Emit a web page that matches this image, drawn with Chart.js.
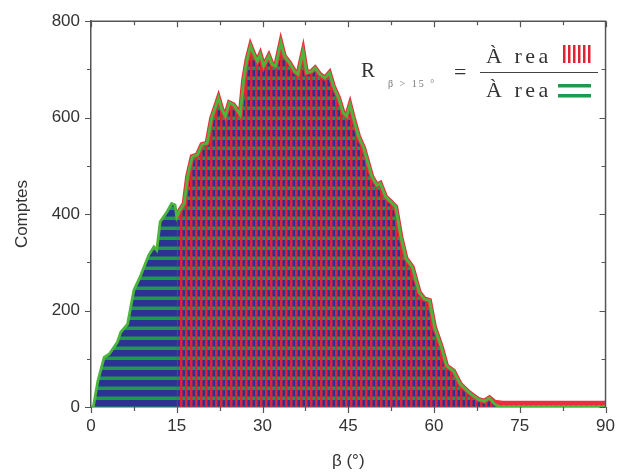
<!DOCTYPE html>
<html>
<head>
<meta charset="utf-8">
<script src="https://cdn.jsdelivr.net/npm/chart.js@4.4.0/dist/chart.umd.min.js"></script>
<style>
  html, body { margin: 0; padding: 0; background: #fff; }
  #wrap { width: 624px; height: 476px; }
</style>
</head>
<body>
<div id="wrap"><canvas id="graf" width="624" height="476"></canvas></div>
<script>
// ========== DADES ==========
// angle beta (graus) i comptes de l'histograma complet
const betaTotal = [0, 0.4, 1.2, 2.3, 3.2, 4.6, 5.2, 6.4, 7.5, 8.7, 10.1, 11.0, 11.5, 12.1, 13.3,
  14.1, 14.7, 15.0, 15.4, 16.3, 16.9, 17.7, 18.6, 19.4, 20.3, 21.1, 22.3, 22.9, 23.5, 24.2,
  24.9, 25.5, 26.1, 26.7, 27.3, 27.9, 28.5, 29.1, 29.6, 30.2, 31.1, 31.7, 32.3, 33.2, 33.8,
  34.7, 35.6, 36.2, 37.1, 37.7, 38.6, 39.2, 40.0, 40.9, 41.7, 42.4, 43.3, 44.1, 44.7, 45.3,
  45.9, 46.8, 47.7, 48.3, 49.1, 50.0, 50.6, 51.5, 52.4, 53.3, 54.2, 55.1, 56.2, 57.4, 58.3,
  59.2, 60.1, 61.3, 62.2, 63.4, 64.6, 66.1, 67.7, 68.8, 69.7, 70.6, 71.5, 80, 90];
const comptesTotal = [0, 0, 54, 103, 110, 134, 155, 172, 242, 273, 315, 332, 325, 384, 405,
  422, 419, 394, 405, 422, 478, 519, 523, 544, 547, 599, 641, 617, 603, 631,
  627, 617, 606, 679, 721, 749, 731, 717, 731, 707, 728, 710, 707, 756, 728,
  714, 696, 690, 738, 693, 696, 703, 690, 682, 693, 665, 641, 610, 603, 627,
  599, 561, 537, 512, 478, 460, 464, 436, 426, 415, 353, 308, 290, 238, 224,
  221, 165, 124, 85, 75, 47, 30, 16, 12, 19, 6, 0, 0, 0];

// cua de la corba beta > 15
const betaCua = [70.6, 72, 90];
const comptesCua = [10, 8, 8];

const ticksX = [0, 15, 30, 45, 60, 75, 90];
const ticksY = [0, 200, 400, 600, 800];

// part beta > 15 (a partir de l'index de 15 graus)
const i15 = betaTotal.indexOf(15.0);
const iFi = betaTotal.indexOf(69.7) + 1;
const betaSup15 = betaTotal.slice(i15, iFi).concat(betaCua);
const comptesSup15 = comptesTotal.slice(i15, iFi).concat(comptesCua);

const punts = (xs, ys) => xs.map((b, i) => ({ x: b, y: ys[i] }));

// ========== PATRONS ==========
const canvas = document.getElementById('graf');
const ctx = canvas.getContext('2d');

function patroHoritzontal() {
  const c = document.createElement('canvas');
  c.width = 4; c.height = 10;
  const g = c.getContext('2d');
  g.fillStyle = '#2b3392'; g.fillRect(0, 0, 4, 10);
  g.fillStyle = '#1f9a4c'; g.fillRect(0, 6.5, 4, 3.5);
  return ctx.createPattern(c, 'repeat');
}

function patroVertical() {
  const c = document.createElement('canvas');
  c.width = 5; c.height = 4;
  const g = c.getContext('2d');
  g.fillStyle = 'rgba(228,32,52,1)'; g.fillRect(0, 0, 2, 4);
  g.fillStyle = 'rgba(228,32,52,0.5)'; g.fillRect(2, 0, 1, 4);
  return ctx.createPattern(c, 'repeat');
}

const COLOR_EIX = '#555';
const COLOR_TEXT = '#333';

// ========== MARC I MARQUES ==========
const marquesEixos = {
  id: 'marquesEixos',
  afterDraw(chart) {
    const { ctx, chartArea: a, scales: { x, y } } = chart;
    ctx.save();
    ctx.strokeStyle = COLOR_EIX;
    ctx.lineWidth = 1.5;
    ctx.beginPath();
    ctx.moveTo(a.left, a.top); ctx.lineTo(a.right, a.top); ctx.lineTo(a.right, a.bottom);
    ctx.stroke();
    ctx.lineWidth = 1.2;
    ctx.beginPath();
    for (let v = 0; v <= 90; v += 7.5) {
      const px = Math.round(x.getPixelForValue(v)) + 0.5;
      const len = v % 15 === 0 ? 6 : 4;
      ctx.moveTo(px, a.bottom); ctx.lineTo(px, a.bottom + len);
      ctx.moveTo(px, a.top); ctx.lineTo(px, a.top + len);
    }
    for (let v = 0; v <= 800; v += 100) {
      const py = Math.round(y.getPixelForValue(v)) + 0.5;
      const len = v % 200 === 0 ? 6 : 4;
      ctx.moveTo(a.left - len, py); ctx.lineTo(a.left, py);
      ctx.moveTo(a.right - len, py); ctx.lineTo(a.right, py);
    }
    ctx.stroke();
    ctx.restore();
  }
};

// ========== FORMULA R ==========
const formulaR = {
  id: 'formulaR',
  afterDraw(chart) {
    const c = chart.ctx;
    c.save();
    c.fillStyle = COLOR_TEXT;
    c.textBaseline = 'alphabetic';
    c.textAlign = 'left';
    c.font = '21px "Liberation Serif", serif';
    c.fillText('R', 361, 77);

    c.fillStyle = '#777';
    c.font = '10px "Liberation Serif", serif';
    c.letterSpacing = '2px';
    c.fillText('β > 15 °', 388, 87);

    c.fillStyle = COLOR_TEXT;
    c.letterSpacing = '0px';
    c.font = '22px "Liberation Serif", serif';
    c.fillText('=', 454, 79);

    c.letterSpacing = '3.5px';
    c.font = '22px "Liberation Serif", serif';
    c.fillText('À rea', 486, 63);
    c.fillText('À rea', 486, 97);
    c.letterSpacing = '0px';

    // barra de la fraccio
    c.strokeStyle = '#444';
    c.lineWidth = 1.2;
    c.beginPath();
    c.moveTo(480, 72.5); c.lineTo(598, 72.5);
    c.stroke();

    // mostra ratllada vermella
    c.fillStyle = '#e42034';
    for (let k = 0; k < 6; k++) c.fillRect(563 + k * 5, 45, 2.5, 18);

    // mostra ratllada verda
    c.fillStyle = '#1f9a4c';
    c.fillRect(558, 84, 33, 3.5);
    c.fillRect(558, 94, 33, 3.5);
    c.restore();
  }
};

// ========== GRAFIC ==========
new Chart(ctx, {
  type: 'line',
  data: {
    datasets: [
      {
        label: 'total',
        data: punts(betaTotal, comptesTotal),
        borderWidth: 0,
        pointRadius: 0,
        fill: 'origin',
        backgroundColor: patroHoritzontal(),
        order: 3
      },
      {
        label: 'beta > 15',
        data: punts(betaSup15, comptesSup15),
        borderColor: '#e8303c',
        borderWidth: 5,
        pointRadius: 0,
        fill: 'origin',
        backgroundColor: patroVertical(),
        order: 2
      },
      {
        label: 'contorn',
        data: punts(betaTotal, comptesTotal),
        borderColor: '#4cb53c',
        borderWidth: 2.8,
        pointRadius: 0,
        fill: false,
        order: 1
      }
    ]
  },
  options: {
    responsive: false,
    animation: false,
    layout: { padding: { top: 21, right: 13, left: 0, bottom: 0 } },
    plugins: {
      legend: { display: false },
      tooltip: { enabled: false }
    },
    scales: {
      x: {
        type: 'linear',
        min: 0, max: 90,
        afterBuildTicks: s => { s.ticks = ticksX.map(v => ({ value: v })); },
        afterFit: s => { s.height = 69; },
        grid: { display: false, drawTicks: false },
        border: { display: true, color: COLOR_EIX, width: 1.5 },
        ticks: { padding: 9, color: COLOR_TEXT, maxRotation: 0, font: { family: '"Liberation Sans", Arial, sans-serif', size: 17 } },
        title: { display: true, text: 'β (°)', color: COLOR_TEXT, padding: { top: 4, bottom: 4 }, font: { family: '"Liberation Sans", Arial, sans-serif', size: 17 } }
      },
      y: {
        type: 'linear',
        min: 0, max: 800,
        afterBuildTicks: s => { s.ticks = ticksY.map(v => ({ value: v })); },
        afterFit: s => { s.width = 91; },
        grid: { display: false, drawTicks: false },
        border: { display: true, color: COLOR_EIX, width: 1.5 },
        ticks: { padding: 11, color: COLOR_TEXT, font: { family: '"Liberation Sans", Arial, sans-serif', size: 17 } },
        title: { display: true, text: 'Comptes', color: COLOR_TEXT, padding: { top: 12, bottom: 4 }, font: { family: '"Liberation Sans", Arial, sans-serif', size: 17 } }
      }
    }
  },
  plugins: [marquesEixos, formulaR]
});
</script>
</body>
</html>
